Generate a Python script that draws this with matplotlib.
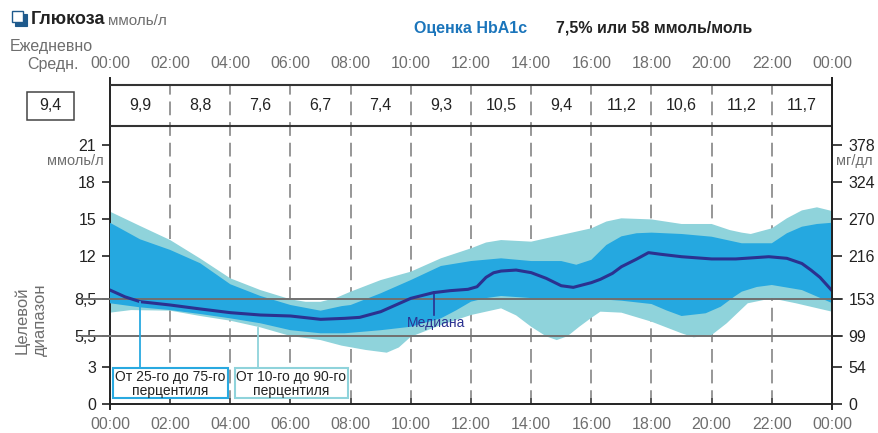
import numpy as np
import matplotlib
matplotlib.use("Agg")
import matplotlib.pyplot as plt
from matplotlib import transforms
from matplotlib.patches import Rectangle
from matplotlib.lines import Line2D

plt.rcParams['font.family'] = ['Liberation Sans', 'DejaVu Sans']

# ---------------- data ----------------
hour_labels = ["00:00", "02:00", "04:00", "06:00", "08:00", "10:00", "12:00",
               "14:00", "16:00", "18:00", "20:00", "22:00", "00:00"]
period_avgs = ["9,9", "8,8", "7,6", "6,7", "7,4", "9,3", "10,5", "9,4", "11,2", "10,6", "11,2", "11,7"]
daily_avg = "9,4"
mmol_ticks = [0, 3, 5.5, 8.5, 12, 15, 18, 21]
mmol_labels = ["0", "3", "5,5", "8,5", "12", "15", "18", "21"]
mgdl_labels = ["0", "54", "99", "153", "216", "270", "324", "378"]
target_low, target_high = 5.5, 8.5

p90_h = [0, 1, 2, 3, 4, 5, 6, 6.5, 7, 7.5, 8, 9, 10, 11, 12, 12.5, 13, 14, 15, 16, 16.5, 17, 18, 19, 20,
         20.6, 21, 21.3, 22, 22.5, 23, 23.5, 24]
p90 = [15.6, 14.44, 13.3, 11.8, 10.2, 9.25, 8.5, 8.3, 8.3, 8.6, 9.12, 10.06, 10.74, 11.82, 12.63, 13.1,
       13.3, 13.17, 13.71, 14.25, 14.8, 15.06, 14.97, 14.6, 14.6, 14.11, 13.9, 13.79, 14.25, 15.06, 15.7,
       15.95, 15.65]

p75_h = [0, 1, 2, 3, 4, 5, 6, 7, 7.7, 8, 9, 10, 11, 12, 13, 14, 15, 15.5, 16, 16.5, 17, 17.5, 18, 19, 20,
         21, 22, 22.5, 23, 23.5, 24]
p75 = [14.7, 13.36, 12.5, 11.42, 9.72, 8.77, 8.04, 7.58, 7.95, 8.04, 8.99, 10.06, 11.2, 11.6, 11.82, 11.6,
       11.6, 11.3, 11.7, 12.9, 13.6, 13.85, 13.9, 13.79, 13.57, 13.04, 13.04, 13.85, 14.38, 14.6, 14.7]

p25_h = [0, 1, 2, 3, 4, 5, 6, 7, 7.8, 9, 10, 11, 11.5, 12, 12.5, 13, 14, 15, 16, 17, 18, 18.5, 19, 19.8,
         20.3, 20.75, 21, 21.5, 22, 23, 24]
p25 = [8.18, 7.85, 7.63, 7.31, 6.96, 6.56, 6.0, 5.75, 5.75, 6.0, 6.28, 6.96, 7.6, 8.31, 8.6, 8.77, 8.6,
       8.58, 8.55, 8.39, 8.12, 7.6, 7.15, 7.37, 7.9, 8.71, 9.12, 9.5, 9.66, 9.25, 8.2]

p10_h = [0, 0.7, 2, 3, 4, 5, 6, 7, 7.7, 8.5, 9.2, 9.6, 10, 11, 12, 13, 13.5, 14, 14.5, 14.85, 15.2, 15.6,
         16, 16.3, 17, 18, 19, 19.4, 20, 20.5, 21.2, 22, 22.8, 24]
p10 = [7.42, 7.63, 7.58, 7.15, 6.77, 6.23, 5.53, 5.2, 4.75, 4.4, 4.18, 4.6, 5.47, 6.42, 7.23, 7.77, 7.2,
       6.28, 5.5, 5.2, 5.5, 6.28, 7.0, 7.5, 7.42, 6.69, 5.75, 5.42, 5.61, 6.56, 8.18, 8.58, 8.18, 7.5]

med_h = [0, 0.5, 1, 2, 3, 4, 5, 6, 7, 7.8, 8.3, 9, 10, 10.75, 11.3, 11.9, 12.2, 12.5, 12.75, 13, 13.5, 14,
         14.5, 15, 15.4, 16, 16.3, 16.7, 17, 17.5, 17.9, 18.3, 19, 20, 20.8, 21.9, 22.5, 23, 23.3, 23.6, 24]
median = [9.25, 8.7, 8.31, 8.04, 7.72, 7.42, 7.23, 7.15, 6.88, 6.96, 7.04, 7.5, 8.58, 9.04, 9.2, 9.31, 9.52,
          10.28, 10.65, 10.79, 10.87, 10.66, 10.2, 9.6, 9.47, 9.85, 10.12, 10.6, 11.14, 11.75, 12.28, 12.15,
          11.95, 11.77, 11.77, 11.95, 11.82, 11.4, 10.87, 10.28, 9.2]

# ---------------- style ----------------
W, H = 879, 433
C_LIGHT = '#8fd3db'
C_DARK = '#25a8e0'
C_MED = '#2b3190'
C_GRID = '#7a7a7a'
C_TXT = '#222222'
C_GRAY = '#6e6e6e'

fig = plt.figure(figsize=(W / 100, H / 100), dpi=100)
PX = transforms.Affine2D().scale(1 / W, -1 / H).translate(0, 1) + fig.transFigure

ax_left, ax_right = 110, 832
y0_px, ytop_px = 404.3, 78
scale = 12.35
ymax = (y0_px - ytop_px) / scale
ax = fig.add_axes([ax_left / W, (H - y0_px) / H, (ax_right - ax_left) / W, (y0_px - ytop_px) / H])
ax.set_xlim(0, 24)
ax.set_ylim(0, ymax)

def yval(py):
    return (y0_px - py) / scale

table_top, table_bot = yval(85), yval(126)

# dashed verticals
for h in range(2, 24, 2):
    ax.add_line(Line2D([h, h], [0, table_top], color=C_GRID, lw=1.1,
                       dashes=(9, 4.5), zorder=1))

# bands
ax.fill(np.concatenate([p90_h, p10_h[::-1]]), np.concatenate([p90, p10[::-1]]),
        color=C_LIGHT, lw=0, zorder=2)
ax.fill(np.concatenate([p75_h, p25_h[::-1]]), np.concatenate([p75, p25[::-1]]),
        color=C_DARK, lw=0, zorder=3)

# target range lines
xl, xr = (82 - ax_left) / 30.08, (842 - ax_left) / 30.08
for v in (target_low, target_high):
    ax.plot([xl, xr], [v, v], color='#707070', lw=1.4, zorder=4, clip_on=False)

# median
ax.plot(med_h, median, color=C_MED, lw=2.2, zorder=5, solid_joinstyle='round')

# table
for yv in (table_top, table_bot):
    ax.plot([0, 24], [yv, yv], color='#333333', lw=1.5, zorder=4)
for i, v in enumerate(period_avgs):
    ax.text(2 * i + 1, (table_top + table_bot) / 2, v, ha='center', va='center',
            fontsize=11.5, color=C_TXT)

# spines & ticks
ax.spines['top'].set_visible(False)
for s in ('left', 'right', 'bottom'):
    ax.spines[s].set_color('#222222')
    ax.spines[s].set_linewidth(1.4)
ax.set_yticks(mmol_ticks)
ax.set_yticklabels(mmol_labels)
ax.tick_params(axis='y', direction='out', length=6, width=1.3, color='#333333',
               labelsize=11.5, labelcolor=C_TXT, pad=4)
ax.set_xticks(range(0, 25, 2))
ax.set_xticklabels(hour_labels)
ax.tick_params(axis='x', direction='in', length=4, width=1.1, color='#444444',
               labelsize=11.5, labelcolor=C_GRAY, pad=9)
for h in (0, 24):
    ax.plot([h, h], [0, yval(y0_px + 5)], color='#222222', lw=1.4, clip_on=False)

ax2 = ax.twinx()
ax2.set_ylim(0, ymax)
ax2.set_yticks(mmol_ticks)
ax2.set_yticklabels(mgdl_labels)
ax2.tick_params(axis='y', direction='out', length=7, width=1.3, color='#333333',
                labelsize=11.5, labelcolor=C_TXT, pad=5)
for s in ('top', 'left', 'bottom'):
    ax2.spines[s].set_visible(False)
ax2.spines['right'].set_color('#222222')
ax2.spines['right'].set_linewidth(1.4)

# top time labels
blend = transforms.blended_transform_factory(ax.transData, PX)
for i, lab in enumerate(hour_labels):
    ax.text(2 * i, 64, lab, transform=blend, ha='center', va='center',
            fontsize=11.5, color=C_GRAY, clip_on=False)

# header texts
fig.patches.append(Rectangle((15, 14), 12, 12, transform=PX, facecolor='#1f5a8c',
                             edgecolor='#1f5a8c', lw=0.8))
fig.patches.append(Rectangle((12, 11), 11, 11, transform=PX, facecolor='white',
                             edgecolor='#1f5a8c', lw=1.0))
fig.text(31, 19, "Глюкоза", transform=PX, ha='left', va='center', fontsize=13,
         fontweight='bold', color=C_TXT)
fig.text(108, 21, "ммоль/л", transform=PX, ha='left', va='center', fontsize=11, color=C_GRAY)
fig.text(414, 28, "Оценка HbA1c", transform=PX, ha='left', va='center', fontsize=11.5,
         fontweight='bold', color='#1b75bb')
fig.text(556, 28, "7,5% или 58 ммоль/моль", transform=PX, ha='left', va='center',
         fontsize=11.5, fontweight='bold', color=C_TXT)
fig.text(10, 46, "Ежедневно", transform=PX, ha='left', va='center', fontsize=11.5, color=C_GRAY)
fig.text(27, 64, "Средн.", transform=PX, ha='left', va='center', fontsize=11.5, color=C_GRAY)

# daily average box
fig.patches.append(Rectangle((27, 92), 47, 28, transform=PX, facecolor='white',
                             edgecolor='#444444', lw=1.1))
fig.text(50.5, 106, daily_avg, transform=PX, ha='center', va='center', fontsize=11.5, color=C_TXT)

# unit labels
fig.text(104, 161, "ммоль/л", transform=PX, ha='right', va='center', fontsize=10.5, color=C_GRAY)
fig.text(836, 161, "мг/дл", transform=PX, ha='left', va='center', fontsize=10.5, color=C_GRAY)
fig.text(31, 320, "Целевой\nдиапазон", transform=PX, ha='center', va='center', rotation=90,
         fontsize=12, color=C_GRAY, linespacing=1.25)

# legend boxes
fig.patches.append(Rectangle((113, 368), 115, 30, transform=PX, facecolor='white',
                             edgecolor='#29a9e0', lw=1.5, zorder=6))
fig.lines.append(Line2D([140, 140], [302, 368], transform=PX, color='#29a9e0', lw=1.3, zorder=6))
fig.text(170.5, 377, "От 25-го до 75-го", transform=PX, ha='center', va='center',
         fontsize=10, color=C_TXT, zorder=7)
fig.text(170.5, 391, "перцентиля", transform=PX, ha='center', va='center',
         fontsize=10, color=C_TXT, zorder=7)

fig.patches.append(Rectangle((235, 368), 113, 30, transform=PX, facecolor='white',
                             edgecolor=C_LIGHT, lw=1.5, zorder=6))
fig.lines.append(Line2D([258, 258], [328, 368], transform=PX, color=C_LIGHT, lw=1.3, zorder=6))
fig.text(291.5, 377, "От 10-го до 90-го", transform=PX, ha='center', va='center',
         fontsize=10, color=C_TXT, zorder=7)
fig.text(291.5, 391, "перцентиля", transform=PX, ha='center', va='center',
         fontsize=10, color=C_TXT, zorder=7)

# median label
fig.lines.append(Line2D([434, 434], [292, 315], transform=PX, color=C_MED, lw=1.2, zorder=6))
fig.text(436, 323, "Медиана", transform=PX, ha='center', va='center', fontsize=10,
         color=C_MED, zorder=7)

fig.savefig("out.png", dpi=100)
